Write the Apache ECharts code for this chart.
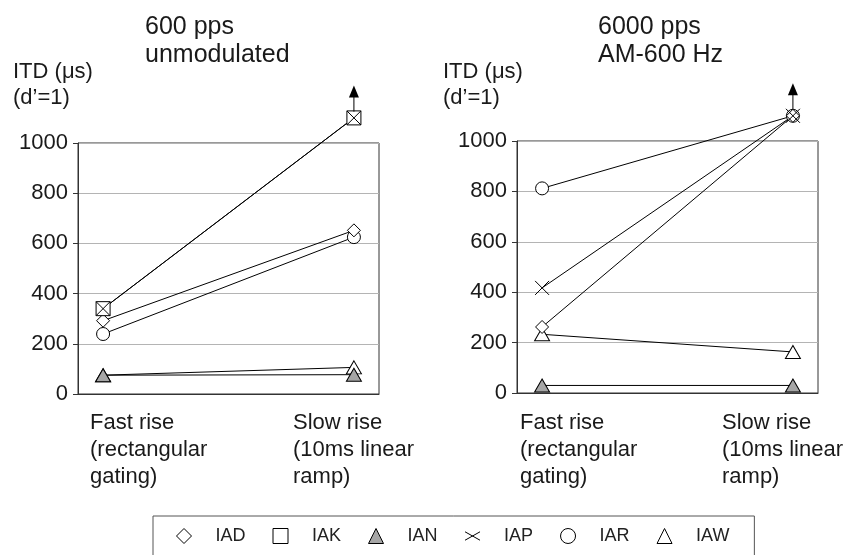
<!DOCTYPE html>
<html>
<head>
<meta charset="utf-8">
<script src="https://cdn.jsdelivr.net/npm/echarts@6/dist/echarts.min.js"></script>
<style>
  html, body { margin: 0; padding: 0; background: #fff; }
  #chart { width: 845px; height: 555px; }
</style>
</head>
<body>
<div id="chart"></div>
<script>
// listeners and conditions
const listeners = ['IAD', 'IAK', 'IAN', 'IAP', 'IAR', 'IAW']
const conditionLabels = ['Fast rise\n(rectangular\ngating)', 'Slow rise\n(10ms linear\nramp)']
const yTicks = [0, 200, 400, 600, 800, 1000]

// 600 pps unmodulated, values = [fast rise, slow rise]; 1100 means off-scale
const unmodIAD = [292, 652]
const unmodIAK = [340, 1100]
const unmodIAN = [75, 77]
const unmodIAP = [340, 1100]
const unmodIAR = [239, 625]
const unmodIAW = [75, 106]

// 6000 pps AM-600 Hz
const amIAD = [262, 1100]
const amIAN = [30, 30]
const amIAP = [417, 1100]
const amIAR = [812, 1100]
const amIAW = [233, 163]

// off-scale arrows above the slow-rise column (start, head)
const arrowSpan = [1125, 1205]

const FONT = 'Liberation Sans, Arial, sans-serif'
const X_PATH = 'path://M0,0L12,12M0,12L12,0'

const markers = {
  IAD: { symbol: 'diamond', size: 13, fill: '#fff', legendIcon: 'diamond' },
  IAK: { symbol: 'rect', size: 14, fill: '#fff', legendIcon: 'rect' },
  IAN: { symbol: 'triangle', size: [15, 13], fill: '#a6a6a6', legendIcon: 'triangle' },
  IAP: { symbol: X_PATH, size: 14, fill: 'transparent', legendIcon: 'path://M0,0L16,9M0,9L16,0' },
  IAR: { symbol: 'circle', size: 13, fill: '#fff', legendIcon: 'circle' },
  IAW: { symbol: 'triangle', size: [15, 13], fill: '#fff', legendIcon: 'triangle' },
}

function makeSeries(name, values, axis) {
  const m = markers[name]
  return {
    name: name,
    type: 'line',
    xAxisIndex: axis,
    yAxisIndex: axis,
    clip: false,
    data: values.map((v, i) => [i, v]),
    symbol: m.symbol,
    symbolSize: m.size,
    showSymbol: true,
    lineStyle: { color: '#000', width: 1 },
    itemStyle: { color: m.fill, borderColor: '#000', borderWidth: 1 },
    emphasis: { disabled: true },
    z: 3,
  }
}

// vertical arrow marking off-scale values
function arrowSeries(axis) {
  return {
    type: 'line',
    xAxisIndex: axis,
    yAxisIndex: axis,
    clip: false,
    silent: true,
    data: [
      { value: [1, arrowSpan[0]], symbol: 'none' },
      { value: [1, arrowSpan[1]], symbol: 'triangle', symbolSize: [10, 12] },
    ],
    lineStyle: { color: '#000', width: 1 },
    itemStyle: { color: '#000', borderColor: '#000', borderWidth: 0 },
    emphasis: { disabled: true },
    z: 4,
  }
}

function xAxisFor(gridIndex) {
  return {
    type: 'value', gridIndex: gridIndex, min: -0.1, max: 1.1,
    axisLine: { show: true, onZero: false, lineStyle: { color: '#333' } },
    axisTick: { show: false }, axisLabel: { show: false }, splitLine: { show: false },
  }
}

function yAxisFor(gridIndex) {
  return {
    type: 'value', gridIndex: gridIndex, min: yTicks[0], max: yTicks[yTicks.length - 1], interval: 200,
    axisLine: { show: true, onZero: false, lineStyle: { color: '#333' } },
    axisTick: { show: true, length: 5, lineStyle: { color: '#333' } },
    axisLabel: { fontSize: 22, color: '#1a1a1a', fontFamily: FONT, margin: 10, formatter: v => String(v) },
    splitLine: { show: true, lineStyle: { color: '#b4b4b4', width: 1 } },
  }
}

function label(text, left, top, size, lh) {
  return {
    text: text, left: left, top: top, padding: 0,
    textStyle: { fontSize: size, lineHeight: lh, fontWeight: 'normal', color: '#1a1a1a', fontFamily: FONT },
  }
}

const chart = echarts.init(document.getElementById('chart'), null, { renderer: 'canvas' })

const option = {
  animation: false,
  backgroundColor: '#fff',
  title: [
    label('600 pps\nunmodulated', 145, 13, 25, 28),
    label('6000 pps\nAM-600 Hz', 598, 13, 25, 28),
    label('ITD (μs)\n(d’=1)', 13, 59, 22, 26),
    label('ITD (μs)\n(d’=1)', 443, 59, 22, 26),
    label(conditionLabels[0], 90, 409, 22, 27),
    label(conditionLabels[1], 293, 409, 22, 27),
    label(conditionLabels[0], 520, 409, 22, 27),
    label(conditionLabels[1], 722, 409, 22, 27),
  ],
  grid: [
    { left: 78, width: 301, top: 143, height: 251, show: true, borderColor: '#333', borderWidth: 1, backgroundColor: 'transparent' },
    { left: 517, width: 301, top: 141, height: 252, show: true, borderColor: '#333', borderWidth: 1, backgroundColor: 'transparent' },
  ],
  xAxis: [xAxisFor(0), xAxisFor(1)],
  yAxis: [yAxisFor(0), yAxisFor(1)],
  legend: {
    left: 153, top: 516,
    padding: [11, 25, 14, 23],
    borderColor: '#555', borderWidth: 1,
    itemWidth: 15, itemHeight: 15, itemGap: 27,
    selectedMode: false,
    textStyle: { fontSize: 18, color: '#222', fontFamily: FONT, padding: [0, 0, 0, 19] },
    data: listeners.map(n => ({
      name: n,
      icon: markers[n].legendIcon,
      itemStyle: { color: markers[n].fill, borderColor: '#000', borderWidth: 1 },
    })),
  },
  series: [
    makeSeries('IAR', unmodIAR, 0),
    makeSeries('IAD', unmodIAD, 0),
    makeSeries('IAW', unmodIAW, 0),
    makeSeries('IAN', unmodIAN, 0),
    makeSeries('IAK', unmodIAK, 0),
    makeSeries('IAP', unmodIAP, 0),
    arrowSeries(0),
    makeSeries('IAR', amIAR, 1),
    makeSeries('IAW', amIAW, 1),
    makeSeries('IAN', amIAN, 1),
    makeSeries('IAD', amIAD, 1),
    makeSeries('IAP', amIAP, 1),
    arrowSeries(1),
  ],
}

chart.setOption(option)
</script>
</body>
</html>
